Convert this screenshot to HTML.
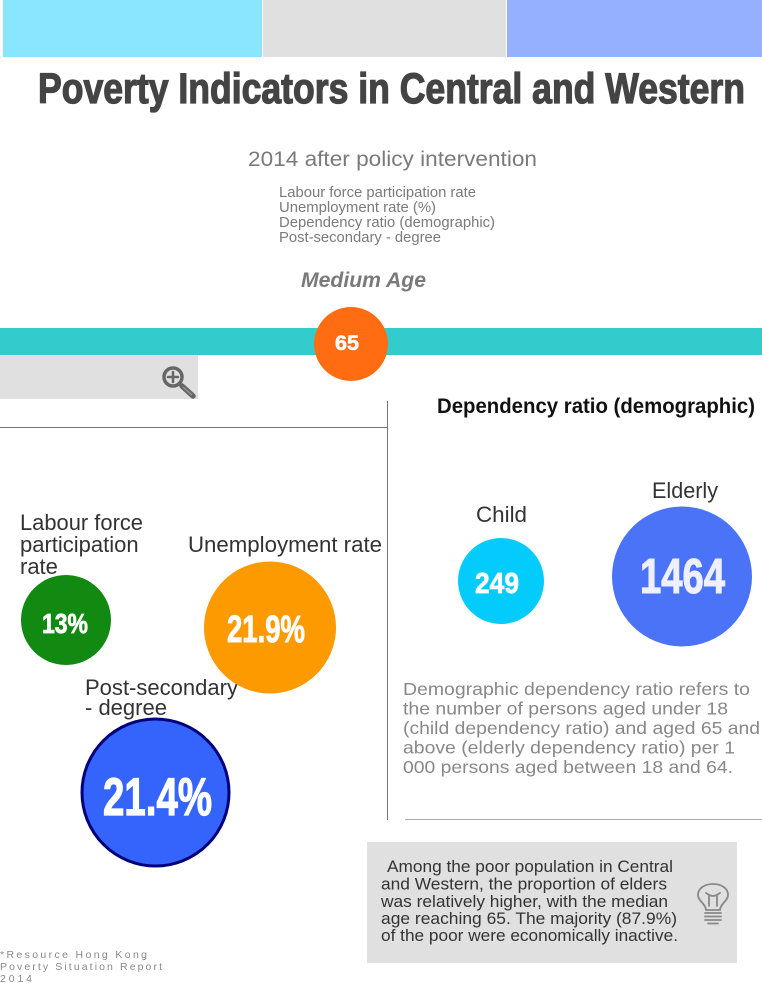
<!DOCTYPE html>
<html>
<head>
<meta charset="utf-8">
<style>
  html, body { margin: 0; padding: 0; background: #fff; }
  body { width: 762px; height: 983px; overflow: hidden; }
  svg { display: block; }
  text { font-family: "Liberation Sans", Arial, sans-serif; }
</style>
</head>
<body>
<svg width="762" height="983" viewBox="0 0 762 983" xmlns="http://www.w3.org/2000/svg">
  <rect x="0" y="0" width="762" height="983" fill="#ffffff"/>

  <!-- top color bars -->
  <rect x="3" y="0" width="259" height="57" fill="#8ae6fe"/>
  <rect x="263" y="0" width="243" height="57" fill="#e0e0e0"/>
  <rect x="507" y="0" width="255" height="57" fill="#95b0fe"/>

  <!-- title -->
  <text x="38" y="103" font-size="43" font-weight="bold" fill="#444" stroke="#444" stroke-width="1.3" textLength="707" lengthAdjust="spacingAndGlyphs">Poverty Indicators in Central and Western</text>

  <!-- subtitle -->
  <text x="248" y="166" font-size="21" fill="#7a7a7a" textLength="289" lengthAdjust="spacingAndGlyphs">2014 after policy intervention</text>

  <!-- list -->
  <g font-size="14.5" fill="#7a7a7a">
    <text x="279" y="197" textLength="197" lengthAdjust="spacingAndGlyphs">Labour force participation rate</text>
    <text x="279" y="212" textLength="157" lengthAdjust="spacingAndGlyphs">Unemployment rate (%)</text>
    <text x="279" y="227" textLength="216" lengthAdjust="spacingAndGlyphs">Dependency ratio (demographic)</text>
    <text x="279" y="242" textLength="162" lengthAdjust="spacingAndGlyphs">Post-secondary - degree</text>
  </g>

  <!-- Medium Age -->
  <text x="301" y="287" font-size="21" font-weight="bold" font-style="italic" fill="#7a7a7a" textLength="125" lengthAdjust="spacingAndGlyphs">Medium Age</text>

  <!-- teal bar -->
  <rect x="0" y="328" width="762" height="27" fill="#33cccc"/>

  <!-- orange 65 circle -->
  <circle cx="351" cy="344" r="37" fill="#ff6c12"/>
  <text x="347" y="350" font-size="21" font-weight="bold" fill="#fff" stroke="#fff" stroke-width="0.6" text-anchor="middle" textLength="24" lengthAdjust="spacingAndGlyphs">65</text>

  <!-- gray box with magnifier -->
  <rect x="0" y="355" width="198" height="44" fill="#e0e0e0"/>
  <g stroke="#666" fill="none" stroke-linecap="round">
    <circle cx="173" cy="377" r="9" stroke-width="3.5"/>
    <line x1="173" y1="372" x2="173" y2="382" stroke-width="2.5"/>
    <line x1="168" y1="377" x2="178" y2="377" stroke-width="2.5"/>
    <line x1="182" y1="386" x2="193" y2="396" stroke-width="5.5"/>
  </g>
  <line x1="183" y1="387" x2="192" y2="395" stroke="#999" stroke-width="1.2"/>

  <!-- divider lines -->
  <line x1="0" y1="427.5" x2="388" y2="427.5" stroke="#777" stroke-width="1"/>
  <line x1="387.5" y1="401" x2="387.5" y2="820" stroke="#777" stroke-width="1"/>
  <line x1="405" y1="819.5" x2="762" y2="819.5" stroke="#aaa" stroke-width="1"/>

  <!-- Dependency heading -->
  <text x="437" y="413" font-size="21" font-weight="bold" fill="#111" textLength="318" lengthAdjust="spacingAndGlyphs">Dependency ratio (demographic)</text>

  <!-- left labels -->
  <g font-size="22" fill="#333">
    <text x="20" y="530" textLength="123" lengthAdjust="spacingAndGlyphs">Labour force</text>
    <text x="20" y="552">participation</text>
    <text x="20" y="574">rate</text>
    <text x="188" y="552" textLength="194" lengthAdjust="spacingAndGlyphs">Unemployment rate</text>
    <text x="85" y="695" textLength="153" lengthAdjust="spacingAndGlyphs">Post-secondary</text>
    <text x="85" y="715">- degree</text>
  </g>

  <!-- left circles -->
  <circle cx="66" cy="620" r="45" fill="#128a12"/>
  <text x="65" y="633" font-size="28" font-weight="bold" fill="#fff" stroke="#fff" stroke-width="0.7" text-anchor="middle" textLength="46" lengthAdjust="spacingAndGlyphs">13%</text>

  <circle cx="270" cy="627.5" r="66" fill="#fd9a00"/>
  <text x="266" y="642" font-size="38" font-weight="bold" fill="#fff" stroke="#fff" stroke-width="0.9" text-anchor="middle" textLength="78" lengthAdjust="spacingAndGlyphs">21.9%</text>

  <circle cx="155.5" cy="792.5" r="73.5" fill="#3464fb" stroke="#00007a" stroke-width="3"/>
  <text x="157.5" y="815" font-size="53" font-weight="bold" fill="#fff" stroke="#fff" stroke-width="1.2" text-anchor="middle" textLength="109" lengthAdjust="spacingAndGlyphs">21.4%</text>

  <!-- right labels -->
  <g font-size="22" fill="#333">
    <text x="476" y="522" textLength="51" lengthAdjust="spacingAndGlyphs">Child</text>
    <text x="652" y="498" textLength="66" lengthAdjust="spacingAndGlyphs">Elderly</text>
  </g>

  <circle cx="501" cy="581" r="43" fill="#03cbfc"/>
  <text x="497" y="593" font-size="29" font-weight="bold" fill="#fff" stroke="#fff" stroke-width="0.7" text-anchor="middle" textLength="44" lengthAdjust="spacingAndGlyphs">249</text>

  <circle cx="682" cy="576.5" r="70" fill="#4a73f7"/>
  <text x="682.5" y="593" font-size="49" font-weight="bold" fill="#eef0ff" stroke="#eef0ff" stroke-width="1.1" text-anchor="middle" textLength="85" lengthAdjust="spacingAndGlyphs">1464</text>

  <!-- description paragraph -->
  <g font-size="17.5" fill="#888">
    <text x="403" y="695" textLength="347" lengthAdjust="spacingAndGlyphs">Demographic dependency ratio refers to</text>
    <text x="403" y="714.5" textLength="325" lengthAdjust="spacingAndGlyphs">the number of persons aged under 18</text>
    <text x="403" y="734" textLength="357" lengthAdjust="spacingAndGlyphs">(child dependency ratio) and aged 65 and</text>
    <text x="403" y="753.5" textLength="332" lengthAdjust="spacingAndGlyphs">above (elderly dependency ratio) per 1</text>
    <text x="403" y="773" textLength="330" lengthAdjust="spacingAndGlyphs">000 persons aged between 18 and 64.</text>
  </g>

  <!-- bottom gray box -->
  <rect x="367" y="842" width="370" height="121" fill="#e0e0e0"/>
  <g font-size="17" fill="#333">
    <text x="387" y="872" textLength="286" lengthAdjust="spacingAndGlyphs">Among the poor population in Central</text>
    <text x="381" y="889.5" textLength="286" lengthAdjust="spacingAndGlyphs">and Western, the proportion of elders</text>
    <text x="381" y="907" textLength="287" lengthAdjust="spacingAndGlyphs">was relatively higher, with the median</text>
    <text x="381" y="924" textLength="296" lengthAdjust="spacingAndGlyphs">age reaching 65. The majority (87.9%)</text>
    <text x="381" y="941" textLength="297" lengthAdjust="spacingAndGlyphs">of the poor were economically inactive.</text>
  </g>

  <!-- lightbulb -->
  <g fill="none" stroke="#888" stroke-width="1.8" stroke-linecap="round">
    <path d="M706 910 C706 904 698 901 698 895 C698 888 705 884 713 884 C721 884 728 888 728 895 C728 901 720 904 720 910 Z"/>
    <path d="M709 906 L709 896 M717 906 L717 896 M706 893 C709 895 711 896 713 896 C715 896 717 895 720 893"/>
    <line x1="705" y1="913" x2="721" y2="913"/>
    <line x1="705" y1="916.5" x2="721" y2="916.5"/>
    <line x1="705" y1="920" x2="721" y2="920"/>
    <line x1="708" y1="923.5" x2="718" y2="923.5"/>
  </g>

  <!-- footnote -->
  <g font-size="10.5" fill="#888">
    <text x="0" y="958" textLength="147" lengthAdjust="spacing">*Resource Hong Kong</text>
    <text x="0" y="970" textLength="162" lengthAdjust="spacing">Poverty Situation Report</text>
    <text x="0" y="982" textLength="32" lengthAdjust="spacing">2014</text>
  </g>
</svg>
</body>
</html>
